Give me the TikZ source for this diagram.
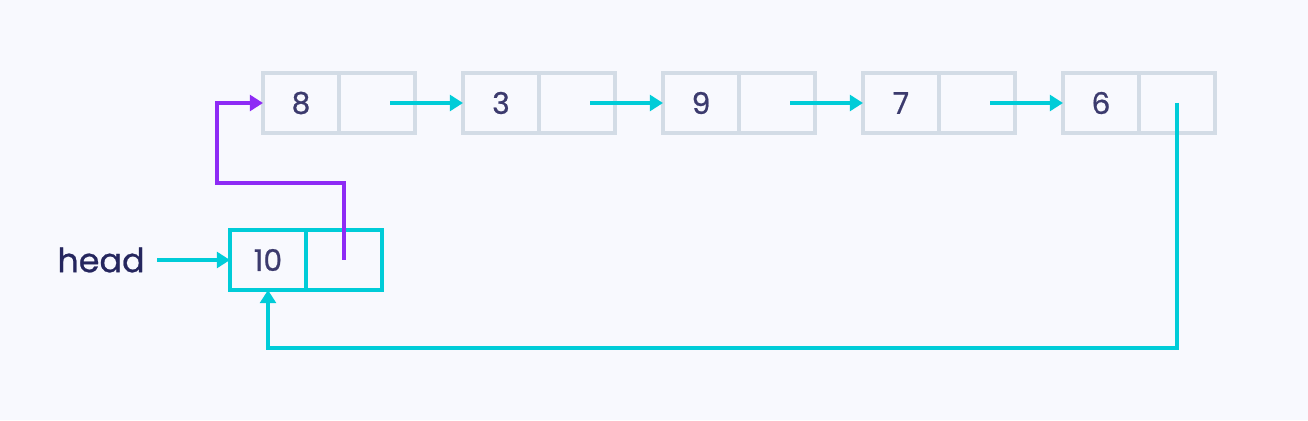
\documentclass[tikz,border=0pt]{standalone}
\usepackage{fontspec}
\setmainfont{Poppins}[FakeBold=0.7]
\usetikzlibrary{positioning,arrows.meta}

\definecolor{bgcol}{HTML}{F8F9FE}
\definecolor{cellcol}{HTML}{D3DCE6}
\definecolor{linkcol}{HTML}{00CCD8}
\definecolor{ptrcol}{HTML}{8E2BF5}
\definecolor{numcol}{HTML}{3C3B6E}
\definecolor{labelcol}{HTML}{25265E}

\tikzset{
  cell/.style={draw=cellcol, line width=2.1pt, minimum width=1.52cm, minimum height=1.2cm,
    inner sep=0pt, outer sep=0pt, text=numcol, font=\fontsize{17}{20}\selectfont},
  headcell/.style={cell, draw=linkcol},
  link/.style={draw=linkcol, line width=2.1pt, -{Triangle[length=7.5pt,width=9pt]}},
  ptr/.style={link, draw=ptrcol},
  lbl/.style={text=labelcol, inner sep=0pt, inner xsep=0.24cm, font=\fontsize{19}{23}\selectfont}
}

\begin{document}
\begin{tikzpicture}
  % Background and size
  \useasboundingbox[fill=bgcol] (0,0) rectangle (26.16,8.4);

  % Top row of list nodes
  \foreach \val [count=\i] in {8,3,9,7,6} {
    \node[cell] (n\i) at ({6.02+4*(\i-1)},6.34) {\val};
    \node[cell, right=0pt of n\i] (p\i) {};
  }

  % Links between top nodes
  \foreach \i [evaluate=\i as \j using int(\i+1)] in {1,...,4}
    \draw[link] ([xshift=0.26cm]p\i.center) -- (n\j.west);

  % New head node
  \node[headcell] (h) at (5.36,3.2) {10};
  \node[headcell, right=0pt of h] (hp) {};
  \node[lbl, anchor=east] (head) at (3.14,3.2) {head};
  \draw[link] (head) -- (h);

  % Head pointer to old first node
  \coordinate (bend) at (4.34,4.74);
  \draw[ptr] (hp.center) -- (hp.center |- bend) -- (bend) |- (n1.west);

  % Last node back to head
  \coordinate (loopend) at (0,1.44);
  \draw[link] (p5.center) -- (p5.center |- loopend) -| (h.south);
\end{tikzpicture}
\end{document}
